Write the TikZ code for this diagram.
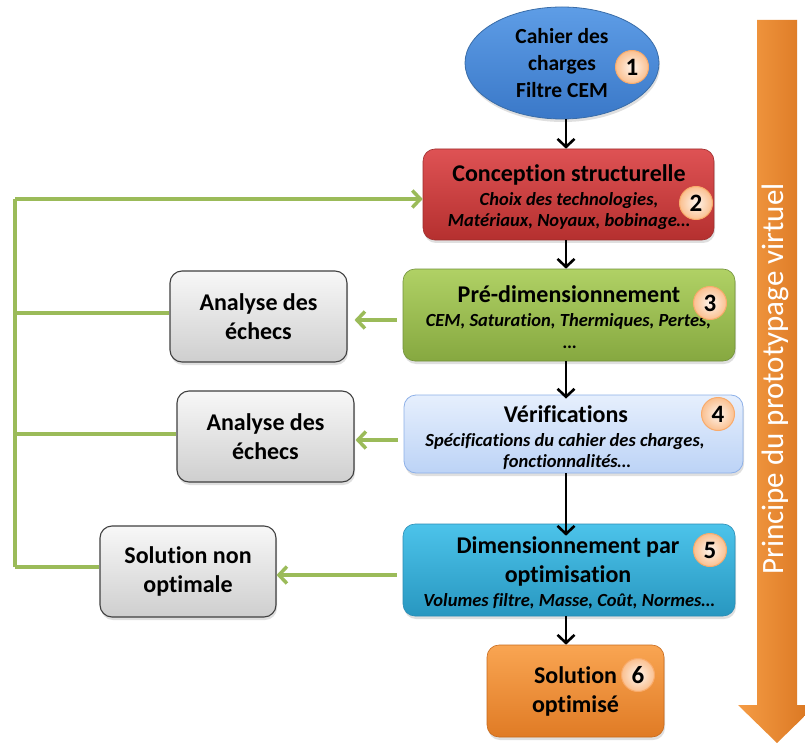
\documentclass[tikz,border=0pt]{standalone}
\usepackage{fontspec}
\setmainfont{Carlito}[Ligatures=NoCommon]
\usetikzlibrary{arrows.meta,shadows,shapes.geometric}
\definecolor{gcol}{HTML}{9BBB59}
\definecolor{bigor}{HTML}{F79646}
\definecolor{arL}{HTML}{F59C45}
\definecolor{arR}{HTML}{D8741F}
\definecolor{elD}{HTML}{3A6DA8}
\definecolor{elT}{HTML}{5E9DE6}
\definecolor{elB}{HTML}{3A78C8}
\definecolor{rdD}{HTML}{9E2C2C}
\definecolor{rdT}{HTML}{DE5254}
\definecolor{rdB}{HTML}{B5302F}
\definecolor{grD}{HTML}{71913A}
\definecolor{grT}{HTML}{B0D165}
\definecolor{grB}{HTML}{86A840}
\definecolor{lbD}{HTML}{8DB0E8}
\definecolor{lbT}{HTML}{E6EFFD}
\definecolor{lbB}{HTML}{BCD3F6}
\definecolor{cyD}{HTML}{2A8DB5}
\definecolor{cyT}{HTML}{4CC3EA}
\definecolor{cyB}{HTML}{2897C0}
\definecolor{orD}{HTML}{C86A1C}
\definecolor{orT}{HTML}{F9A552}
\definecolor{orB}{HTML}{E07B25}
\newcommand{\tlfnt}{\fontsize{24}{29}\selectfont\bfseries}
\newcommand{\sbfnt}{\fontsize{18.5}{22}\selectfont\bfseries\itshape}
\begin{document}
\begin{tikzpicture}[x=1pt,y=-1pt,
  boxbase/.style={rounded corners=12pt, inner sep=0pt, align=center, text=black,
     drop shadow={opacity=0.25, shadow xshift=1pt, shadow yshift=-3pt}},
  greybox/.style={boxbase, draw=black!75, line width=1.1pt, top color=gray!6, bottom color=gray!38,
     minimum width=177pt, minimum height=91pt, font=\tlfnt},
  badge/.style={circle, minimum size=33pt, inner sep=0pt, draw=bigor!80, line width=1pt,
     inner color=white!90!bigor, outer color=bigor!60!white, font=\fontsize{25}{25}\selectfont\bfseries},
  ttext/.style={anchor=base, inner sep=0pt, font=\tlfnt},
  stext/.style={anchor=base, inner sep=0pt, font=\sbfnt},
  barrow/.style={line width=2.6pt, -{Straight Barb[length=8pt,width=17pt]}},
  garrow/.style={draw=gcol, line width=3.5pt, -{Straight Barb[length=8pt,width=17pt]}},
  greenline/.style={draw=gcol, line width=3.5pt}
]
\useasboundingbox (0,0) rectangle (805,743);
\clip (0,0) rectangle (805,743);
\fill[white] (0,0) rectangle (805,743);

% big vertical arrow
\shade[left color=arL, right color=arR]
  (757,20) -- (797,20) -- (797,705) -- (816,705) -- (777,743) -- (738,705) -- (757,705) -- cycle;
\node[rotate=90, text=white, font=\fontsize{31}{31}\selectfont, inner sep=0pt] (ptxt) at (775,379) {Principe du prototypage virtuel};

% main column
\node[ellipse, minimum width=194pt, minimum height=112pt, inner sep=0pt, align=center,
  draw=elD, line width=0.8pt, top color=elT, bottom color=elB,
  drop shadow={opacity=0.25, shadow xshift=1pt, shadow yshift=-3pt},
  font=\fontsize{21.5}{27}\selectfont\bfseries] (e1) at (562,63) {Cahier des\\charges\\Filtre CEM};

\node[boxbase, draw=rdD, line width=0.6pt, top color=rdT, bottom color=rdB,
  minimum width=291pt, minimum height=91pt] (conc) at (568.5,194.5) {};
\node[ttext] (conct) at (569,182) {Conception structurelle};
\node[stext] (concs1) at (569,206) {Choix des technologies,};
\node[stext] (concs2) at (569,226) {Matériaux, Noyaux, bobinage…};

\node[boxbase, draw=grD, line width=0.6pt, top color=grT, bottom color=grB,
  minimum width=332pt, minimum height=92pt] (pre) at (569,315) {};
\node[ttext] (pret) at (569,302) {Pré-dimensionnement};
\node[stext] (pres1) at (568.5,326) {CEM, Saturation, Thermiques, Pertes,};
\node[stext] (pres2) at (570,348) {…};

\node[boxbase, draw=lbD, line width=0.8pt, top color=lbT, bottom color=lbB,
  minimum width=339pt, minimum height=78pt] (ver) at (573.5,434) {};
\node[ttext] (vert) at (566,422) {Vérifications};
\node[stext] (vers1) at (565,446) {Spécifications du cahier des charges,};
\node[stext] (vers2) at (567,467) {fonctionnalités…};

\node[boxbase, draw=cyD, line width=0.6pt, top color=cyT, bottom color=cyB,
  minimum width=332pt, minimum height=92pt] (dim) at (569,570) {};
\node[ttext] (dimt1) at (568,553) {Dimensionnement par};
\node[ttext] (dimt2) at (568,582) {optimisation};
\node[stext] (dims) at (569,606) {Volumes filtre, Masse, Coût, Normes…};

\node[boxbase, draw=orD, line width=0.6pt, top color=orT, bottom color=orB,
  minimum width=177pt, minimum height=92pt, font=\tlfnt] (sol) at (575.5,691) {Solution\\optimisé};

% left boxes
\node[greybox] (a1) at (258.5,316.5) {Analyse des\\échecs};
\node[greybox] (a2) at (265.5,436.5) {Analyse des\\échecs};
\node[greybox, minimum width=176pt] (sno) at (188,571.5) {Solution non\\optimale};

% badges
\node[badge] (b1) at (632,67) {1};
\node[badge] (b2) at (696,203) {2};
\node[badge] (b3) at (710,303) {3};
\node[badge] (b4) at (718,414) {4};
\node[badge] (b5) at (710,550) {5};
\node[badge] (b6) at (638,675) {6};

% black arrows
\coordinate (ax) at (566,0);
\draw[barrow] (e1.south -| ax) -- (conc.north -| ax);
\draw[barrow] (conc.south -| ax) -- (pre.north -| ax);
\draw[barrow] (pre.south -| ax) -- ([yshift=-4pt]ver.north -| ax);
\draw[barrow] (ver.south -| ax) -- ([yshift=-12pt]dim.north -| ax);
\draw[barrow] (dim.south -| ax) -- (sol.north -| ax);

% green feedback
\coordinate (Ltop) at (15,199);
\coordinate (Lbot) at (15,567);
\draw[greenline] (Lbot) -- (Ltop);
\draw[garrow] (Ltop) -- (Ltop -| conc.west);
\draw[greenline] ([yshift=3.5pt]a1.west) -- ([yshift=3.5pt]a1.west -| Ltop);
\draw[greenline] ([yshift=2.5pt]a2.west) -- ([yshift=2.5pt]a2.west -| Ltop);
\draw[greenline] ([yshift=4.5pt]sno.west) -- ([yshift=4.5pt]sno.west -| Ltop);
\draw[garrow, shorten >=7pt, shorten <=6pt] ([yshift=-5pt]pre.west) -- ([yshift=-5pt]pre.west -| a1.east);
\draw[garrow, shorten >=1pt, shorten <=6pt] ([yshift=-6pt]ver.west) -- ([yshift=-6pt]ver.west -| a2.east);
\draw[garrow, shorten <=6pt] ([yshift=-5pt]dim.west) -- ([yshift=-5pt]dim.west -| sno.east);
\end{tikzpicture}
\end{document}
